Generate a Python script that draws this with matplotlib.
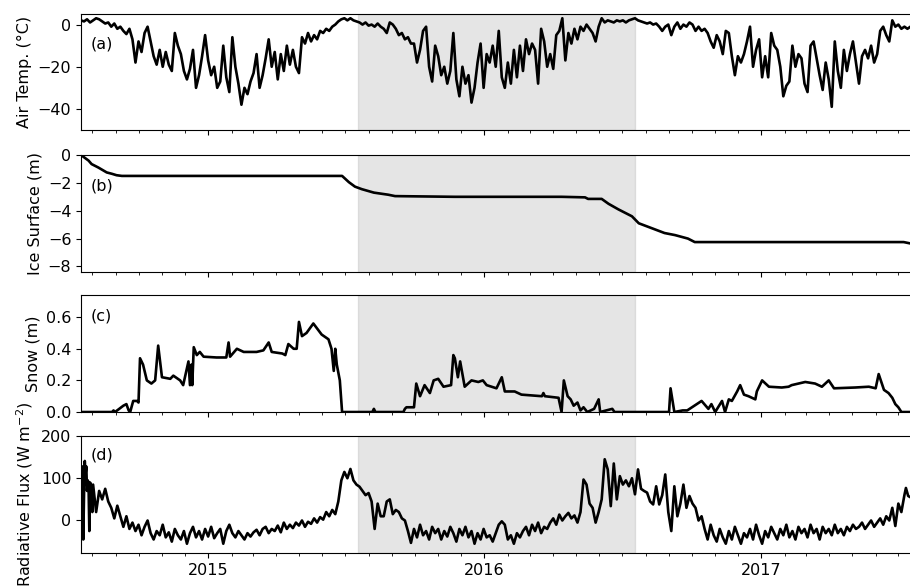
import numpy as np
import pandas as pd
import matplotlib
matplotlib.use('Agg')
import matplotlib.pyplot as plt
import matplotlib.dates as mdates

plt.rcParams['font.size'] = 11.5

# Station record start; all series below are given as day offsets from here
t0 = pd.Timestamp('2014-07-17')
season_start = pd.Timestamp('2015-07-18')
season_end = pd.Timestamp('2016-07-18')

# Air temperature (deg C), every 4 days
temp_days = list(range(0, 1097, 4))
temp_vals = [
    2, 1.5, 2.5, 1, 2, 3, 2.5, 1.5, 0.5, 1,
    -1, 0.5, -2, -1, -3, -4.5, -2, -7, -18, -8,
    -13, -4, -1, -8, -15, -19, -12, -20, -13, -19,
    -22, -4, -10, -14, -22, -26, -21, -12, -30, -24,
    -15, -5, -17, -24, -20, -30, -27, -10, -25, -32,
    -6, -20, -28, -38, -30, -33, -27, -23, -14, -30,
    -24, -16, -7, -20, -13, -26, -14, -22, -10, -19,
    -12, -20, -23, -6, -9, -4, -8, -5, -7, -3,
    -4, -2, -3, -1, 0, 1.5, 2.5, 3, 2, 3,
    2, 1.5, 1, 0, 1, -0.5, 0, -1, 0.5, -1,
    -2, -4, 1, 0, -2, -5, -4, -7, -6, -9,
    -9, -18, -12, -3, -1, -20, -27, -10, -15, -24,
    -20, -28, -22, -4, -26, -34, -20, -28, -24, -37,
    -30, -18, -9, -30, -14, -18, -10, -20, -3, -25,
    -30, -18, -28, -12, -25, -10, -22, -7, -14, -9,
    -12, -28, -2, -8, -20, -14, -21, -5, -3, 3,
    -17, -4, -9, -2, -7, -1, -3, 0, -2, -4,
    -8, -1, 3, 1, 2, 1.5, 1, 2, 1.5, 2,
    1, 2, 2.5, 3, 2, 1.5, 1, 0.5, 1, 0,
    0.5, -1, -3, -1, 0, -5, -1, 1, -2, 0,
    -1, 1, 0, -3, -1, -3, -2, -4, -8, -11,
    -5, -8, -14, -3, -4, -15, -24, -15, -18, -14,
    -8, -1, -20, -12, -7, -25, -15, -25, -4, -10,
    -12, -20, -34, -29, -27, -10, -20, -14, -16, -28,
    -32, -10, -8, -16, -24, -31, -18, -26, -39, -8,
    -22, -30, -12, -22, -14, -8, -18, -28, -15, -12,
    -16, -10, -18, -14, -3, -1, -5, -8, 2, -1,
    0, -2, -1, -2, -1,
]

# Ice surface position (m)
ice_days = [0, 10, 14, 23, 34, 41, 47, 54, 345, 354, 362, 371, 387, 406, 415,
            494, 635, 666, 670, 688, 697, 710, 728, 737, 754, 771, 785, 802,
            811, 1087, 1096]
ice_vals = [0, -0.4, -0.65, -0.9, -1.25, -1.35, -1.45, -1.5, -1.5, -1.95, -2.27,
            -2.45, -2.7, -2.85, -2.95, -3.0, -3.0, -3.04, -3.15, -3.15, -3.5,
            -3.9, -4.4, -4.9, -5.25, -5.6, -5.75, -6.0, -6.25, -6.25, -6.35]

# Snow depth (m)
snow_days = [0, 41, 43, 45, 56, 60, 63, 65, 69, 74, 76, 78, 82, 87, 93, 98, 102,
             107, 118, 122, 131, 135, 142, 144, 146, 147, 149, 153, 157, 162,
             179, 192, 195, 197, 206, 215, 232, 241, 248, 252, 266, 270, 274,
             281, 285, 288, 292, 298, 307, 318, 327, 331, 334, 336, 338, 342,
             345, 385, 387, 389, 426, 428, 430, 440, 443, 448, 454, 461, 466,
             472, 479, 489, 492, 494, 498, 501, 507, 516, 525, 531, 536, 549,
             556, 560, 573, 582, 609, 611, 613, 631, 635, 638, 643, 647, 651,
             656, 660, 664, 669, 678, 684, 686, 702, 705, 777, 779, 784, 795,
             801, 820, 829, 833, 838, 847, 851, 856, 860, 867, 871, 876, 882,
             891, 893, 900, 909, 926, 935, 939, 957, 970, 979, 988, 995, 1023,
             1041, 1050, 1054, 1061, 1067, 1072, 1076, 1080, 1084, 1096]
snow_vals = [0, 0, 0.01, 0, 0.04, 0.05, 0.01, 0, 0.07, 0.07, 0.06, 0.34, 0.3,
             0.2, 0.18, 0.2, 0.42, 0.22, 0.21, 0.23, 0.2, 0.17, 0.32, 0.17,
             0.3, 0.17, 0.41, 0.36, 0.38, 0.35, 0.345, 0.345, 0.44, 0.35, 0.4,
             0.38, 0.38, 0.39, 0.44, 0.38, 0.37, 0.36, 0.43, 0.4, 0.4, 0.57,
             0.48, 0.5, 0.56, 0.49, 0.46, 0.4, 0.26, 0.4, 0.3, 0.2, 0.0, 0.0,
             0.02, 0.0, 0.0, 0.02, 0.03, 0.03, 0.18, 0.1, 0.17, 0.12, 0.2,
             0.21, 0.16, 0.17, 0.36, 0.34, 0.22, 0.32, 0.16, 0.2, 0.19, 0.2,
             0.17, 0.15, 0.22, 0.13, 0.13, 0.11, 0.1, 0.12, 0.1, 0.09, 0.0,
             0.2, 0.1, 0.08, 0.04, 0.06, 0.01, 0.03, 0.0, 0.02, 0.08, 0.0,
             0.02, 0.0, 0.0, 0.15, 0.0, 0.01, 0.01, 0.07, 0.02, 0.05, 0.0,
             0.07, 0.0, 0.08, 0.07, 0.13, 0.17, 0.11, 0.1, 0.08, 0.13, 0.2,
             0.16, 0.155, 0.16, 0.17, 0.19, 0.18, 0.16, 0.2, 0.15, 0.155, 0.16,
             0.15, 0.24, 0.14, 0.12, 0.09, 0.05, 0.03, 0.0, 0.0]

# Net radiative flux (W m-2): daily at the start, then every 4 days
flux_days = list(range(0, 17)) + list(range(20, 1089, 4)) + [1090, 1093, 1096]
flux_vals = [
    125, 10, 128, -45, 60, 141, 110, 128, 70, 95, 85, -25, 90, 85, 80, 20, 85,
    20, 70, 50, 75, 45,
    30, 5, 35, 10, -15, 10, -20, -5, -25, -10,
    -35, -15, 0, -30, -45, -25, -35, -10, -40, -28,
    -50, -20, -35, -45, -25, -55, -30, -15, -40, -25,
    -45, -20, -38, -15, -42, -30, -20, -55, -25, -10,
    -30, -40, -25, -35, -45, -30, -38, -28, -22, -35,
    -20, -15, -30, -20, -25, -12, -28, -5, -20, -10,
    -18, -5, -12, 0, -15, -3, -8, 5, -5, 8,
    2, 20, 10, 25, 15, 45, 95, 115, 100, 122,
    95, 85, 80, 70, 60, 65, 45, -20, 40, 10,
    10, 45, 50, 15, 25, 20, 5, 0, -25, -53,
    -20, -40, -10, -35, -25, -45, -15, -30, -20, -45,
    -25, -38, -15, -30, -50, -20, -35, -15, -40, -25,
    -55, -30, -45, -20, -40, -35, -50, -30, -10, -2,
    -10, -45, -35, -55, -30, -40, -25, -15, -35, -10,
    -25, -5, -30, -15, -20, -5, 5, -10, 14, 0,
    10, 18, 5, 12, -5, 20, 97, 85, 40, 30,
    -5, 20, 50, 145, 121, 34, 135, 50, 105, 85,
    95, 81, 100, 62, 121, 75, 70, 66, 45, 38,
    81, 38, 60, 109, 20, -25, 81, 10, 40, 85,
    30, 58, 40, 30, 0, 10, -20, -45, -10, -35,
    -50, -20, -40, -55, -25, -45, -15, -35, -55, -30,
    -40, -20, -45, -10, -35, -55, -25, -40, -15, -30,
    -45, -20, -35, -10, -40, -25, -45, -15, -30, -20,
    -40, -10, -30, -20, -45, -15, -30, -20, -35, -10,
    -30, -20, -35, -15, -25, -10, -20, -15, -5, -20,
    -10, 0, -15, -5, 5, -10, 10, 0, 30, -13,
    40, 20, 60, 77, 58, 55,
]


def to_dates(days):
    return t0 + pd.to_timedelta(days, unit='D')


panels = [
    (to_dates(temp_days), temp_vals, 'Air Temp. (°C)', (-50, 5), [-40, -20, 0], '(a)', 0.74),
    (to_dates(ice_days), ice_vals, 'Ice Surface (m)', (-8.4, 0), [-8, -6, -4, -2, 0], '(b)', 0.735),
    (to_dates(snow_days), snow_vals, 'Snow (m)', (0, 0.74), [0.0, 0.2, 0.4, 0.6], '(c)', 0.82),
    (to_dates(flux_days), flux_vals, 'Radiative Flux (W m$^{-2}$)', (-77, 200), [0, 100, 200], '(d)', 0.84),
]

fig = plt.figure(figsize=(9.1, 5.87), dpi=100)
bottoms = [0.7785, 0.5366, 0.2981, 0.0579]
heights = [0.1976, 0.1993, 0.1993, 0.1993]

axes = []
for k, (dates, vals, label, ylim, yticks, tag, ty) in enumerate(panels):
    ax = fig.add_axes([0.089, bottoms[k], 0.914, heights[k]],
                      sharex=axes[0] if axes else None)
    ax.axvspan(season_start, season_end, color='gray', alpha=0.2, lw=1)
    ax.plot(dates, vals, color='black', lw=1.9)
    ax.set_ylim(*ylim)
    ax.set_yticks(yticks)
    ax.set_ylabel(label)
    ax.text(0.011, ty, tag, transform=ax.transAxes, ha='left', va='center')
    axes.append(ax)

axes[0].set_xlim(t0, t0 + pd.Timedelta(days=1099))
for ax in axes:
    ax.xaxis.set_major_locator(mdates.YearLocator())
    ax.xaxis.set_minor_locator(mdates.MonthLocator())
    ax.xaxis.set_major_formatter(mdates.DateFormatter('%Y'))
for ax in axes[:-1]:
    ax.tick_params(labelbottom=False)

fig.savefig('out.png', dpi=100)
